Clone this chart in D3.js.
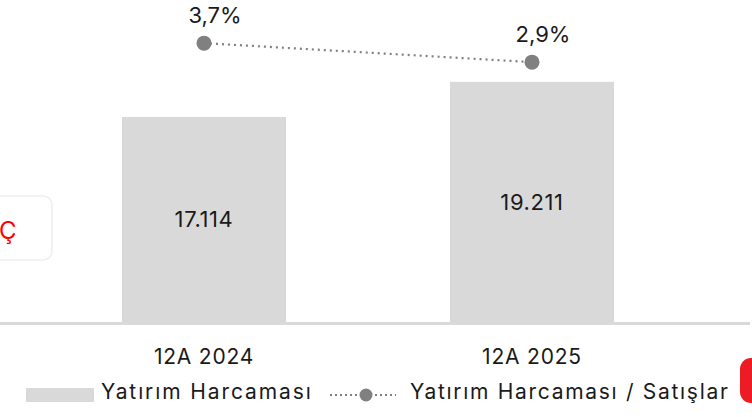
<!DOCTYPE html>
<html><head><meta charset="utf-8">
<script src="https://cdn.jsdelivr.net/npm/d3@7"></script>
<style>html,body{margin:0;padding:0;background:#fff;overflow:hidden}</style>
</head><body>
<svg id="c" width="752" height="417"></svg>
<script>
const categories = ["12A 2024", "12A 2025"];
const capex = [17114, 19211];
const capexLabels = ["17.114", "19.211"];
const ratio = [3.7, 2.9];
const ratioLabels = ["3,7%", "2,9%"];
const legendLabels = ["Yatırım Harcaması", "Yatırım Harcaması / Satışlar"];

const FONT = "Inter, Lato, sans-serif";
const svg = d3.select("#c");

const x = d3.scaleBand().domain(categories).range([40, 696]).paddingInner(0.5).paddingOuter(0.25);
const yBar = d3.scaleLinear().domain([4830, 21000]).range([322, 52]);
const yLine = d3.scaleLinear().domain([0, 4]).range([131, 36]);

// left partial card
svg.append("rect").attr("x", -12).attr("y", 196).attr("width", 64).attr("height", 64)
  .attr("rx", 9).attr("fill", "#fff").attr("stroke", "#eeeeee").attr("stroke-width", 1.5);
svg.append("text").attr("x", -1).attr("y", 239).attr("fill", "#ff0000")
  .attr("font-family", FONT).attr("font-size", 24).text("Ç");

// bars
const data = categories.map((c, i) => ({c, v: capex[i], lab: capexLabels[i], r: ratio[i], rl: ratioLabels[i]}));
svg.selectAll("rect.bar").data(data).enter().append("rect").attr("class", "bar")
  .attr("x", d => x(d.c)).attr("width", x.bandwidth())
  .attr("y", d => yBar(d.v)).attr("height", d => yBar.range()[0] - yBar(d.v))
  .attr("fill", "#d9d9d9");

// axis baseline
svg.append("line").attr("x1", 0).attr("x2", 750).attr("y1", 323.5).attr("y2", 323.5)
  .attr("stroke", "#d9d9d9").attr("stroke-width", 3);

const TXT = "#1a1a1a";
// bar labels
svg.selectAll("text.bl").data(data).enter().append("text").attr("class", "bl")
  .attr("x", d => x(d.c) + x.bandwidth() / 2)
  .attr("y", d => (yBar(d.v) + yBar.range()[0]) / 2 + 8)
  .attr("text-anchor", "middle")
  .attr("font-family", FONT).attr("font-size", 22).attr("letter-spacing", 0.6)
  .attr("fill", TXT).text(d => d.lab);

// category labels
svg.selectAll("text.cat").data(categories).enter().append("text").attr("class", "cat")
  .attr("x", d => x(d) + x.bandwidth() / 2).attr("y", 364)
  .attr("text-anchor", "middle").attr("font-family", FONT).attr("font-size", 21)
  .attr("letter-spacing", 0.8).attr("fill", TXT).text(d => d);

// line
const line = d3.line().x(d => x(d.c) + x.bandwidth() / 2).y(d => yLine(d.r));
svg.append("path").datum(data).attr("d", line).attr("fill", "none")
  .attr("stroke", "#808080").attr("stroke-width", 2.2).attr("stroke-dasharray", "2,4");
svg.selectAll("circle.pt").data(data).enter().append("circle").attr("class", "pt")
  .attr("cx", d => x(d.c) + x.bandwidth() / 2).attr("cy", d => yLine(d.r)).attr("r", 7.5)
  .attr("fill", "#808080");
svg.selectAll("text.rl").data(data).enter().append("text").attr("class", "rl")
  .attr("x", d => x(d.c) + x.bandwidth() / 2 + 11).attr("y", d => yLine(d.r) - 20)
  .attr("text-anchor", "middle").attr("font-family", FONT).attr("font-size", 22)
  .attr("fill", TXT).text(d => d.rl);

// legend
const lg = svg.append("g");
lg.append("rect").attr("x", 26).attr("y", 388).attr("width", 68).attr("height", 14).attr("fill", "#d9d9d9");
lg.append("text").attr("x", 101).attr("y", 399).attr("font-family", FONT).attr("font-size", 21)
  .attr("letter-spacing", 1.9).attr("fill", TXT).text(legendLabels[0]);
lg.append("line").attr("x1", 330).attr("x2", 396).attr("y1", 395).attr("y2", 395)
  .attr("stroke", "#808080").attr("stroke-width", 2.2).attr("stroke-dasharray", "2,3");
lg.append("circle").attr("cx", 366).attr("cy", 395).attr("r", 6.5).attr("fill", "#808080");
lg.append("text").attr("x", 410).attr("y", 399).attr("font-family", FONT).attr("font-size", 21)
  .attr("letter-spacing", 1.7).attr("fill", TXT).text(legendLabels[1]);

// partial red icon bottom-right
svg.append("rect").attr("x", 740).attr("y", 358).attr("width", 34).attr("height", 45)
  .attr("rx", 11).attr("fill", "#ed1c24");
</script>
</body></html>
